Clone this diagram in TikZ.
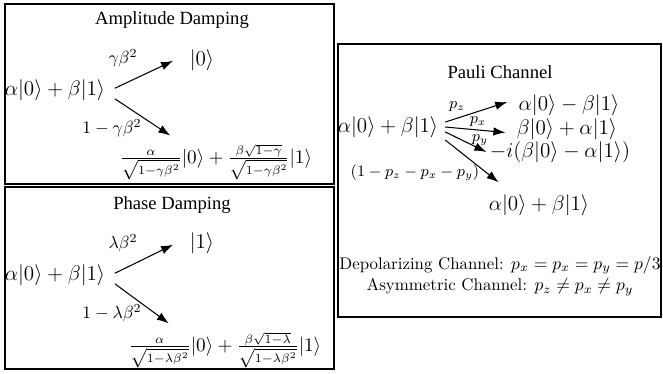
\documentclass[tikz,border=0pt]{standalone}
\usepackage{fontspec}
\usepackage{amsmath,amssymb}
\newfontfamily\titlefont{Liberation Serif}
\usetikzlibrary{arrows.meta, positioning}
\newcommand{\qket}[1]{|#1\rangle}

\begin{document}
\begin{tikzpicture}[
    x=0.02cm, y=-0.02cm,
    >={Latex[length=2.4mm, width=1.7mm]},
    title/.style={font=\titlefont\fontsize{10.6}{12}\selectfont},
    state/.style={font=\fontsize{11.5}{14}\selectfont},
    mix/.style={font=\fontsize{10.5}{13}\selectfont},
    panel/.style={draw, line width=0.8pt},
    arr/.style={->, line width=0.6pt},
    prob/.style={inner sep=1pt},
    pprob/.style={inner sep=1pt, font=\fontsize{8.7}{10}\selectfont},
    note/.style={font=\fontsize{9.6}{11}\selectfont}
]
\useasboundingbox (0,0) rectangle (663,373);

% Panels
\draw[panel] (5,4) rectangle (334,184);
\draw[panel] (5,187) rectangle (334,369);
\draw[panel] (338,44) rectangle (661,317);

% Amplitude damping
\node[title] (amptitle) at (172,20) {Amplitude Damping};
\node[state] (ampin)   at (55,90)   {$\alpha\qket{0}+\beta\qket{1}$};
\node[state] (ampzero) at (202,60)  {$\qket{0}$};
\node[mix]   (ampmix)  at (216,162) {$\frac{\alpha}{\sqrt{1-\gamma\beta^2}}\qket{0}+\frac{\beta\sqrt{1-\gamma}}{\sqrt{1-\gamma\beta^2}}\qket{1}$};
\node[prob] (ampp) at (123,58)  {$\gamma\beta^2$};
\node[prob] (ampq) at (112,128) {$1-\gamma\beta^2$};

\draw[arr] ([xshift=2pt, yshift=1pt]ampin.east) -- ([xshift=-6pt, yshift=-0.5pt]ampzero.west);
\draw[arr] ([xshift=2pt, yshift=-5pt]ampin.east) -- ([xshift=-26pt, yshift=1.5pt]ampmix.north);

% Phase damping
\node[title] (phtitle) at (172,205) {Phase Damping};
\node[state] (phin)   at (55,275)  {$\alpha\qket{0}+\beta\qket{1}$};
\node[state] (phone)  at (202,243) {$\qket{1}$};
\node[mix]   (phmix)  at (225,350) {$\frac{\alpha}{\sqrt{1-\lambda\beta^2}}\qket{0}+\frac{\beta\sqrt{1-\lambda}}{\sqrt{1-\lambda\beta^2}}\qket{1}$};
\node[prob] (php) at (123,243) {$\lambda\beta^2$};
\node[prob] (phq) at (112,313) {$1-\lambda\beta^2$};

\draw[arr] ([xshift=2pt, yshift=1pt]phin.east) -- ([xshift=-6pt, yshift=-1pt]phone.west);
\draw[arr] ([xshift=2pt, yshift=-5pt]phin.east) -- ([xshift=-32pt, yshift=1.5pt]phmix.north);

% Pauli channel
\node[title] (paulititle) at (500,72) {Pauli Channel};
\node[state] (pauliin) at (388,127) {$\alpha\qket{0}+\beta\qket{1}$};
\node[state] (pauliz)  at (569,105) {$\alpha\qket{0}-\beta\qket{1}$};
\node[state] (paulix)  at (567,129) {$\beta\qket{0}+\alpha\qket{1}$};
\node[state] (pauliy)  at (560,152) {$-i(\beta\qket{0}-\alpha\qket{1})$};
\node[state] (paulid)  at (539,205) {$\alpha\qket{0}+\beta\qket{1}$};
\node[pprob] (pz)   at (457,107) {$p_z$};
\node[pprob] (px)   at (478,122) {$p_x$};
\node[pprob] (py)   at (480,140) {$p_y$};
\node[pprob] (prem) at (415,173) {$(1-p_z-p_x-p_y)$};

\draw[arr] ([xshift=0.5pt, yshift=2.8pt]pauliin.east) -- ([xshift=-3pt, yshift=1.7pt]pauliz.west);
\draw[arr] ([xshift=0.5pt]pauliin.east) -- ([xshift=-3pt, yshift=-2pt]paulix.west);
\draw[arr] ([xshift=0.5pt, yshift=-2.8pt]pauliin.east) -- ([xshift=1.5pt, yshift=0pt]pauliy.west);
\draw[arr] ([xshift=0.5pt, yshift=-7.4pt]pauliin.east) -- ([xshift=-23pt, yshift=3.4pt]paulid.north);

\node[note] (depol) at (500,265) {Depolarizing Channel: $p_x=p_x=p_y=p/3$};
\node[note] (asym)  at (500,287) {Asymmetric Channel: $p_z\neq p_x\neq p_y$};

\end{tikzpicture}
\end{document}
